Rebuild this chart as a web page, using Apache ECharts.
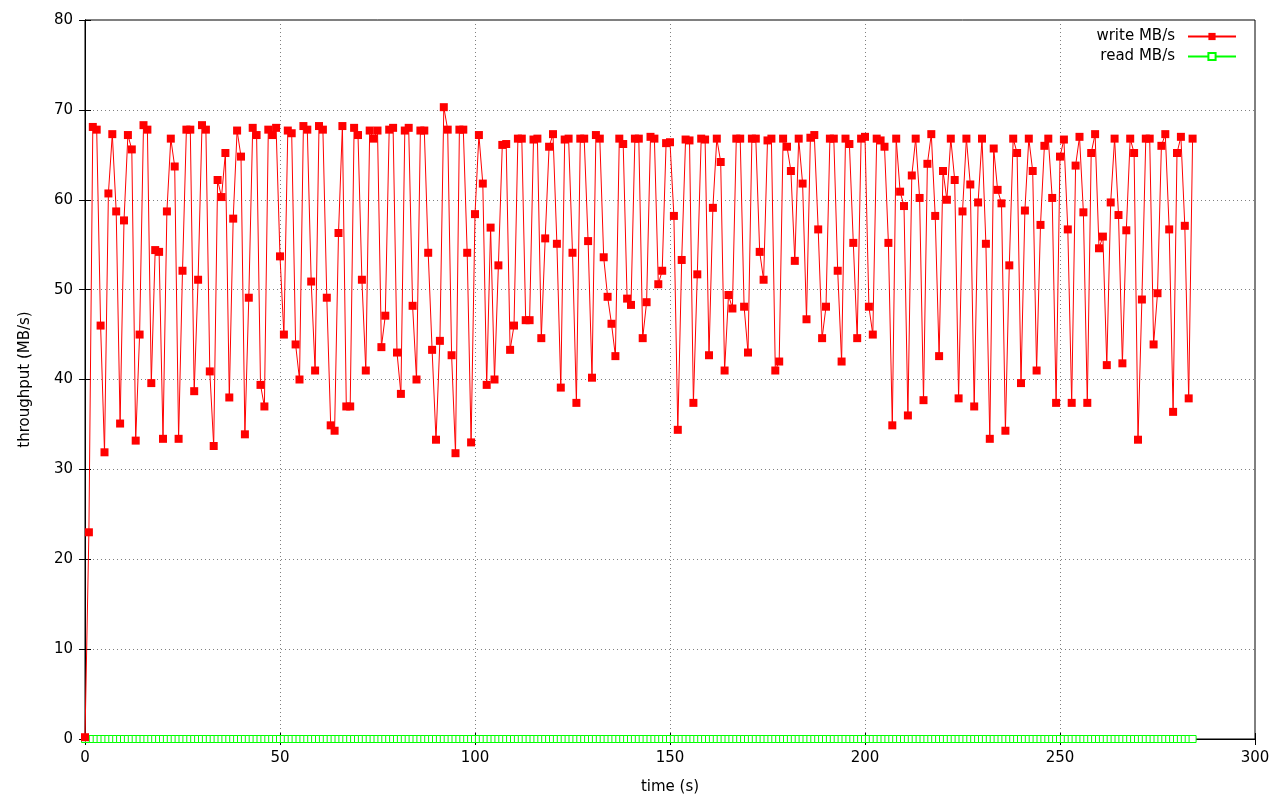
<!DOCTYPE html>
<html>
<head>
<meta charset="utf-8">
<script src="https://cdn.jsdelivr.net/npm/echarts@6/dist/echarts.min.js"></script>
<style>
html,body{margin:0;padding:0;background:#fff;}
#chart{width:1280px;height:800px;}
</style>
</head>
<body>
<div id="chart"></div>
<script>
// write throughput (MB/s), one sample per second starting at t = 0
const writeMBs = [
0.2,23,68.1,67.8,46,31.9,60.7,67.3,58.7,35.1,
57.7,67.2,65.6,33.2,45,68.3,67.8,39.6,54.4,54.2,
33.4,58.7,66.8,63.7,33.4,52.1,67.8,67.8,38.7,51.1,
68.3,67.8,40.9,32.6,62.2,60.3,65.2,38,57.9,67.7,
64.8,33.9,49.1,68,67.2,39.4,37,67.8,67.2,68,
53.7,45,67.7,67.4,43.9,40,68.2,67.8,50.9,41,
68.2,67.8,49.1,34.9,34.3,56.3,68.2,37,37,68,
67.2,51.1,41,67.7,66.8,67.7,43.6,47.1,67.8,68,
43,38.4,67.7,68,48.2,40,67.7,67.7,54.1,43.3,
33.3,44.3,70.3,67.8,42.7,31.8,67.8,67.8,54.1,33,
58.4,67.2,61.8,39.4,56.9,40,52.7,66.1,66.2,43.3,
46,66.8,66.8,46.6,46.6,66.7,66.8,44.6,55.7,65.9,
67.3,55.1,39.1,66.7,66.8,54.1,37.4,66.8,66.8,55.4,
40.2,67.2,66.8,53.6,49.2,46.2,42.6,66.8,66.2,49,
48.3,66.8,66.8,44.6,48.6,67,66.8,50.6,52.1,66.3,
66.4,58.2,34.4,53.3,66.7,66.6,37.4,51.7,66.8,66.7,
42.7,59.1,66.8,64.2,41,49.4,47.9,66.8,66.8,48.1,
43,66.8,66.8,54.2,51.1,66.6,66.8,41,42,66.8,
65.9,63.2,53.2,66.8,61.8,46.7,66.9,67.2,56.7,44.6,
48.1,66.8,66.8,52.1,42,66.8,66.2,55.2,44.6,66.8,
67,48.1,45,66.8,66.6,65.9,55.2,34.9,66.8,60.9,
59.3,36,62.7,66.8,60.2,37.7,64,67.3,58.2,42.6,
63.2,60,66.8,62.2,37.9,58.7,66.8,61.7,37,59.7,
66.8,55.1,33.4,65.7,61.1,59.6,34.3,52.7,66.8,65.2,
39.6,58.8,66.8,63.2,41,57.2,66,66.8,60.2,37.4,
64.8,66.7,56.7,37.4,63.8,67,58.6,37.4,65.2,67.3,
54.6,55.9,41.6,59.7,66.8,58.3,41.8,56.6,66.8,65.2,
33.3,48.9,66.8,66.8,43.9,49.6,66,67.3,56.7,36.4,
65.2,67,57.1,37.9,66.8
];
// read throughput (MB/s), one sample per second starting at t = 0
const readMBs = [
0,0,0,0,0,0,0,0,0,0, 0,0,0,0,0,0,0,0,0,0,
0,0,0,0,0,0,0,0,0,0, 0,0,0,0,0,0,0,0,0,0,
0,0,0,0,0,0,0,0,0,0, 0,0,0,0,0,0,0,0,0,0,
0,0,0,0,0,0,0,0,0,0, 0,0,0,0,0,0,0,0,0,0,
0,0,0,0,0,0,0,0,0,0, 0,0,0,0,0,0,0,0,0,0,
0,0,0,0,0,0,0,0,0,0, 0,0,0,0,0,0,0,0,0,0,
0,0,0,0,0,0,0,0,0,0, 0,0,0,0,0,0,0,0,0,0,
0,0,0,0,0,0,0,0,0,0, 0,0,0,0,0,0,0,0,0,0,
0,0,0,0,0,0,0,0,0,0, 0,0,0,0,0,0,0,0,0,0,
0,0,0,0,0,0,0,0,0,0, 0,0,0,0,0,0,0,0,0,0,
0,0,0,0,0,0,0,0,0,0, 0,0,0,0,0,0,0,0,0,0,
0,0,0,0,0,0,0,0,0,0, 0,0,0,0,0,0,0,0,0,0,
0,0,0,0,0,0,0,0,0,0, 0,0,0,0,0,0,0,0,0,0,
0,0,0,0,0,0,0,0,0,0, 0,0,0,0,0,0,0,0,0,0,
0,0,0,0,0
];
const seriesNames = ['write MB/s', 'read MB/s'];
const xTicks = [0, 50, 100, 150, 200, 250, 300];
const yTicks = [0, 10, 20, 30, 40, 50, 60, 70, 80];
const xName = 'time (s)';
const yName = 'throughput (MB/s)';

const FONT = 'DejaVu Sans';
const chart = echarts.init(document.getElementById('chart'));
const toPairs = arr => arr.map((v, i) => [i, v]);
const gridLine = {show: true, lineStyle: {color: '#808080', type: [1, 3], width: 1}};
const axisCommon = {
  axisLine: {show: true, lineStyle: {color: '#000', width: 1}},
  axisTick: {show: true, inside: true, length: 6, lineStyle: {color: '#000'}},
  minorTick: {show: false}
};
const legendCommon = {
  right: 43, orient: 'vertical', align: 'right', itemWidth: 48, itemHeight: 9, padding: 0,
  textStyle: {fontFamily: FONT, fontSize: 15, color: '#000', padding: [0, 8, 0, 0]}
};
chart.setOption({
  animation: false,
  backgroundColor: '#fff',
  textStyle: {fontFamily: FONT},
  grid: {left: 85, right: 25, top: 20, bottom: 60, show: true, borderColor: '#000', borderWidth: 1, containLabel: false},
  legend: [
    Object.assign({}, legendCommon, {data: [seriesNames[0]], top: 29}),
    Object.assign({}, legendCommon, {data: [seriesNames[1]], top: 49})
  ],
  xAxis: [
    Object.assign({}, axisCommon, {
      type: 'value', min: xTicks[0], max: xTicks[xTicks.length - 1], interval: xTicks[1] - xTicks[0],
      name: xName, nameLocation: 'middle', nameGap: 41,
      nameTextStyle: {fontFamily: FONT, fontSize: 15, color: '#000'},
      axisLabel: {fontFamily: FONT, fontSize: 15, color: '#000', margin: 12},
      splitLine: gridLine
    }),
    Object.assign({}, axisCommon, {
      type: 'value', position: 'top', min: xTicks[0], max: xTicks[xTicks.length - 1], interval: xTicks[1] - xTicks[0],
      axisLabel: {show: false}, splitLine: {show: false}
    })
  ],
  yAxis: [
    Object.assign({}, axisCommon, {
      type: 'value', min: yTicks[0], max: yTicks[yTicks.length - 1], interval: yTicks[1] - yTicks[0],
      name: yName, nameLocation: 'middle', nameGap: 52,
      nameTextStyle: {fontFamily: FONT, fontSize: 15, color: '#000'},
      axisLabel: {fontFamily: FONT, fontSize: 15, color: '#000', margin: 12},
      splitLine: gridLine
    }),
    Object.assign({}, axisCommon, {
      type: 'value', position: 'right', min: yTicks[0], max: yTicks[yTicks.length - 1], interval: yTicks[1] - yTicks[0],
      axisLabel: {show: false}, splitLine: {show: false}
    })
  ],
  series: [
    {
      name: seriesNames[1], type: 'line', data: toPairs(readMBs),
      symbol: 'rect', symbolSize: 7, showAllSymbol: true,
      itemStyle: {color: '#fff', borderColor: '#00ff00', borderWidth: 1},
      lineStyle: {color: '#00ff00', width: 1},
      color: '#00ff00', z: 2
    },
    {
      name: seriesNames[0], type: 'line', data: toPairs(writeMBs),
      symbol: 'rect', symbolSize: 8, showAllSymbol: true,
      itemStyle: {color: '#ff0000', borderWidth: 0},
      lineStyle: {color: '#ff0000', width: 1},
      color: '#ff0000', z: 3
    }
  ]
});
</script>
</body>
</html>
